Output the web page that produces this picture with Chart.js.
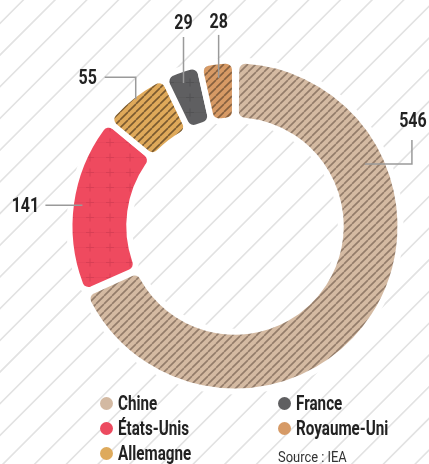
<!DOCTYPE html>
<html>
<head>
<meta charset="utf-8">
<script src="https://cdn.jsdelivr.net/npm/chart.js@4.4.0/dist/chart.umd.min.js"></script>
<style>
  html, body { margin: 0; padding: 0; background: #fff; }
  #wrap { position: relative; width: 429px; height: 464px; overflow: hidden; }
  #c { position: absolute; left: 0; top: 0; }
  .lg { position: absolute; height: 20px; display: flex; align-items: center;
        font-family: Roboto, 'Liberation Sans', sans-serif;
        font-weight: bold; font-size: 19.5px; color: #222; white-space: nowrap; }
  .lg .t { display: inline-block; transform: scaleX(0.78); transform-origin: 0 50%; }
  .dot { width: 13px; height: 13px; border-radius: 50%; margin-right: 5px; flex: none; }
  #src { position: absolute; left: 278px; top: 450px; font-family: Roboto, 'Liberation Sans', sans-serif;
         font-size: 15px; color: #333; white-space: nowrap; line-height: 15px;
         transform: scaleX(0.86); transform-origin: 0 50%; }
</style>
</head>
<body>
<div id="wrap">
  <canvas id="c" width="429" height="464"></canvas>
  <div id="legend"></div>
  <div id="src">Source : IEA</div>
</div>
<script>
// ---- Data ----
const categories = ['Chine', 'États-Unis', 'Allemagne', 'France', 'Royaume-Uni'];
const values = [546, 141, 55, 29, 28];
const labelTexts = ['546', '141', '55', '29', '28'];

// ---- Styles ----
const legendColors = ['#d3b9a2', '#ec4a5f', '#deaa5c', '#5f5f61', '#d69a66'];
const FONT = "Roboto, 'Liberation Sans', sans-serif";

function stripePattern(base, stripe) {
  const s = 8;
  const c = document.createElement('canvas');
  c.width = s; c.height = s;
  const x = c.getContext('2d');
  x.fillStyle = base; x.fillRect(0, 0, s, s);
  x.strokeStyle = stripe; x.lineWidth = 1.6;
  x.beginPath();
  for (let k = -1; k <= 1; k++) { x.moveTo(k * s, s); x.lineTo(k * s + s, 0); }
  x.stroke();
  return x.createPattern(c, 'repeat');
}
function crossPattern(base, cross) {
  const w = 20, h = 15;
  const c = document.createElement('canvas');
  c.width = w; c.height = h;
  const x = c.getContext('2d');
  x.fillStyle = base; x.fillRect(0, 0, w, h);
  x.strokeStyle = cross; x.lineWidth = 1;
  x.globalAlpha = 0.3;
  x.beginPath(); x.moveTo(0, 7.5); x.lineTo(w, 7.5); x.stroke();
  x.globalAlpha = 1;
  x.beginPath();
  x.moveTo(10 - 4, 7.5); x.lineTo(10 + 4, 7.5);
  x.moveTo(10, 7.5 - 4); x.lineTo(10, 7.5 + 4);
  x.stroke();
  return x.createPattern(c, 'repeat');
}
const fills = [
  stripePattern('#d4baa2', '#937c6a'),
  crossPattern('#ef4a5f', '#d83f55'),
  stripePattern('#dfa95a', '#7a5a30'),
  crossPattern('#5f5f61', '#525254'),
  stripePattern('#d79a65', '#86603f')
];

// leader layout: angle fraction in the arc, inset from outer edge, path offsets, text offset
const leaders = [
  { frac: 0.262, inset: 21, path: [[47, 0], [47, -24]], text: [48, -44] },
  { frac: 0.5, inset: 11, path: [[-37, 0]], text: [-57, 0] },
  { frac: 0.5, inset: 4, path: [[0, -22], [-31, -22]], text: [-48, -22] },
  { frac: 0.45, inset: 13, path: [[0, -46]], text: [0, -61] },
  { frac: 0.5, inset: 16, path: [[0, -43]], text: [0, -57] }
];

const bgPlugin = {
  id: 'bg',
  beforeDraw(chart) {
    const ctx = chart.ctx, W = chart.width, H = chart.height;
    ctx.save();
    ctx.fillStyle = '#ffffff'; ctx.fillRect(0, 0, W, H);
    ctx.strokeStyle = '#e2e2e2'; ctx.lineWidth = 1.6;
    ctx.beginPath();
    for (let c = 23.3 - 31.7 * 2; c < W + H + 40; c += 31.7) {
      ctx.moveTo(c + 20, -20); ctx.lineTo(c - H - 20, H + 20);
    }
    ctx.stroke();
    ctx.restore();
  }
};

const labelPlugin = {
  id: 'leaders',
  afterDraw(chart) {
    const ctx = chart.ctx;
    const meta = chart.getDatasetMeta(0);
    ctx.save();
    meta.data.forEach((arc, i) => {
      const p = arc.getProps(['x', 'y', 'startAngle', 'endAngle', 'outerRadius'], true);
      const L = leaders[i];
      const a = p.startAngle + L.frac * (p.endAngle - p.startAngle);
      const r = p.outerRadius - L.inset;
      const ax = p.x + r * Math.cos(a), ay = p.y + r * Math.sin(a);
      ctx.strokeStyle = '#9a9a9a'; ctx.lineWidth = 1.5;
      ctx.beginPath(); ctx.moveTo(ax, ay);
      L.path.forEach(o => ctx.lineTo(ax + o[0], ay + o[1]));
      ctx.stroke();
      ctx.save();
      ctx.translate(ax + L.text[0], ay + L.text[1] + 7);
      ctx.scale(0.8, 1);
      ctx.fillStyle = '#222';
      ctx.font = 'bold 20px ' + FONT;
      ctx.textAlign = 'center'; ctx.textBaseline = 'alphabetic';
      ctx.fillText(labelTexts[i], 0, 0);
      ctx.restore();
    });
    ctx.restore();
  }
};

new Chart(document.getElementById('c'), {
  type: 'doughnut',
  data: {
    labels: categories,
    datasets: [{
      data: values,
      backgroundColor: fills,
      borderColor: '#ffffff',
      borderWidth: 6,
      borderRadius: 9,
      spacing: 1,
      hoverOffset: 0
    }]
  },
  options: {
    responsive: false,
    animation: false,
    radius: 165,
    cutout: 103,
    rotation: 0,
    layout: { padding: { left: 70, top: 61, right: 29, bottom: 73 } },
    events: [],
    plugins: { legend: { display: false }, tooltip: { enabled: false } }
  },
  plugins: [bgPlugin, labelPlugin]
});

// HTML legend (column-major, 3 rows)
const legendPos = [[100, 403], [100, 428], [100, 453], [278, 403], [278, 428]];
const lg = document.getElementById('legend');
categories.forEach((name, i) => {
  const d = document.createElement('div');
  d.className = 'lg';
  d.style.left = legendPos[i][0] + 'px';
  d.style.top = (legendPos[i][1] - 10) + 'px';
  d.innerHTML = '<span class="dot" style="background:' + legendColors[i] + '"></span><span class="t">' + name + '</span>';
  lg.appendChild(d);
});
</script>
</body>
</html>
